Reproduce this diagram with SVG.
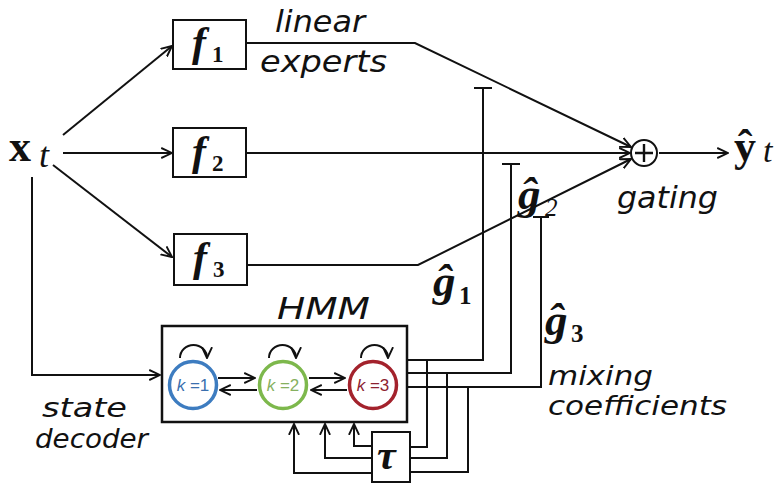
<svg xmlns="http://www.w3.org/2000/svg" width="782" height="483" viewBox="0 0 782 483">
<style>
.ln{fill:none;stroke:#111;stroke-width:2}
.box{fill:#fff;stroke:#111;stroke-width:2}
.lbl{font-family:"DejaVu Sans",Verdana,sans-serif;font-style:italic;font-size:30px;fill:#111}
.lbs{font-size:26px}
.math{font-family:"Liberation Serif","Times New Roman",serif;fill:#111}
.bi{font-weight:bold;font-style:italic}
.b{font-weight:bold}
.it{font-style:italic}
.st{fill:none;stroke-width:3.5}
.kt{font-family:"Liberation Sans",Arial,sans-serif;font-size:17px}
</style>
<defs>
<marker id="ah" viewBox="0 0 10 10" refX="9" refY="5" markerWidth="12" markerHeight="12" markerUnits="userSpaceOnUse" orient="auto">
<path d="M0,0.8 L9,5 L0,9.2" fill="none" stroke="#111" stroke-width="1.6"/>
</marker>
</defs>
<rect width="782" height="483" fill="#fff"/>

<g id="connectors" class="ln">
<path d="M63,135 L172,46" marker-end="url(#ah)"/>
<path d="M63,153 L172,153" marker-end="url(#ah)"/>
<path d="M53,165 L172,257" marker-end="url(#ah)"/>
<path d="M32,177 V375 H160" marker-end="url(#ah)"/>
<path d="M247,43 H415 L631,147" marker-end="url(#ah)"/>
<path d="M247,153 H630" marker-end="url(#ah)"/>
<path d="M247,265 H418 L631,159" marker-end="url(#ah)"/>
<path d="M659,153 H728" marker-end="url(#ah)"/>
<path d="M407,360 H483 V88 M474,88 H492"/>
<path d="M407,373 H511 V164 M502,164 H520"/>
<path d="M407,387 H541 V217 M533,217 H549"/>
<path d="M427,360 V447 H410"/>
<path d="M447,373 V458 H410"/>
<path d="M468,387 V472 H410"/>
<path d="M372,446 H354 V424" marker-end="url(#ah)"/>
<path d="M372,458 H325 V424" marker-end="url(#ah)"/>
<path d="M372,473 H294 V424" marker-end="url(#ah)"/>
</g>

<g id="xt">
<text class="math b" x="9" y="161" font-size="44">x</text>
<text class="math it" x="39" y="167" font-size="36">t</text>
</g>

<g id="f1">
<rect class="box" x="173" y="20" width="73" height="49"/>
<text class="math bi" x="192" y="56" font-size="42">f</text>
<text class="math b" x="212" y="62" font-size="23">1</text>
</g>
<g id="f2">
<rect class="box" x="173" y="128" width="73" height="49"/>
<text class="math bi" x="192" y="165" font-size="42">f</text>
<text class="math b" x="212" y="171" font-size="23">2</text>
</g>
<g id="f3">
<rect class="box" x="174" y="234" width="73" height="51"/>
<text class="math bi" x="193" y="271" font-size="42">f</text>
<text class="math b" x="213" y="277" font-size="23">3</text>
</g>

<g id="labels-experts">
<text class="lbl" x="275" y="32" textLength="90" lengthAdjust="spacingAndGlyphs">linear</text>
<text class="lbl" x="260" y="72" textLength="127" lengthAdjust="spacingAndGlyphs">experts</text>
</g>

<g id="gating">
<circle cx="644" cy="153" r="13" fill="#fff" stroke="#111" stroke-width="2"/>
<path d="M635,153 H653 M644,144 V162" stroke="#111" stroke-width="2.4"/>
<text class="lbl" x="617" y="208" textLength="101" lengthAdjust="spacingAndGlyphs">gating</text>
</g>

<g id="yhat">
<text class="math b" x="734" y="161" font-size="44">ŷ</text>
<text class="math it" x="763" y="162" font-size="34">t</text>
</g>

<g id="g1">
<text class="math bi" x="433" y="296" font-size="45">ĝ</text>
<text class="math b" x="459" y="304" font-size="25">1</text>
</g>
<g id="g2">
<text class="math bi" x="518" y="209" font-size="45">ĝ</text>
<text class="math it" x="545" y="216" font-size="25">2</text>
</g>
<g id="g3">
<text class="math bi" x="545" y="335" font-size="45">ĝ</text>
<text class="math b" x="571" y="342" font-size="25">3</text>
</g>

<g id="mixing">
<text class="lbl lbs" x="548" y="385" textLength="105" lengthAdjust="spacingAndGlyphs">mixing</text>
<text class="lbl lbs" x="548" y="415" textLength="179" lengthAdjust="spacingAndGlyphs">coefficients</text>
</g>

<g id="hmm">
<text class="lbl" x="277" y="319" font-size="33" textLength="93" lengthAdjust="spacingAndGlyphs">HMM</text>
<rect x="162" y="326" width="245" height="96" fill="#fff" stroke="#111" stroke-width="2.5"/>
<g class="ln">
<path d="M180,358 A13.5,13 0 0 1 207,358" marker-end="url(#ah)"/>
<path d="M269,358 A13.5,13 0 0 1 296,358" marker-end="url(#ah)"/>
<path d="M361,358 A13.5,13 0 0 1 388,358" marker-end="url(#ah)"/>
<path d="M218,378 H255" marker-end="url(#ah)"/>
<path d="M257,390 H220" marker-end="url(#ah)"/>
<path d="M309,378 H345" marker-end="url(#ah)"/>
<path d="M347,390 H311" marker-end="url(#ah)"/>
</g>
</g>
<g id="k1">
<circle class="st" cx="193" cy="385" r="23.5" stroke="#3d7cc0"/>
<text class="kt" x="193" y="391" text-anchor="middle" fill="#3a6fae"><tspan font-style="italic">k</tspan> =1</text>
</g>
<g id="k2">
<circle class="st" cx="283" cy="385" r="23.5" stroke="#7db84c"/>
<text class="kt" x="283" y="391" text-anchor="middle" fill="#86b060"><tspan font-style="italic">k</tspan> =2</text>
</g>
<g id="k3">
<circle class="st" cx="373" cy="385" r="23.5" stroke="#a3222c"/>
<text class="kt" x="373" y="391" text-anchor="middle" fill="#8c2230"><tspan font-style="italic">k</tspan> =3</text>
</g>

<g id="tau">
<rect class="box" x="372" y="432" width="38" height="50"/>
<text class="math bi" x="377" y="469" font-size="42">τ</text>
</g>

<g id="decoder">
<text class="lbl lbs" x="42" y="417" textLength="85" lengthAdjust="spacingAndGlyphs">state</text>
<text class="lbl lbs" x="35" y="448" textLength="113" lengthAdjust="spacingAndGlyphs">decoder</text>
</g>
</svg>
